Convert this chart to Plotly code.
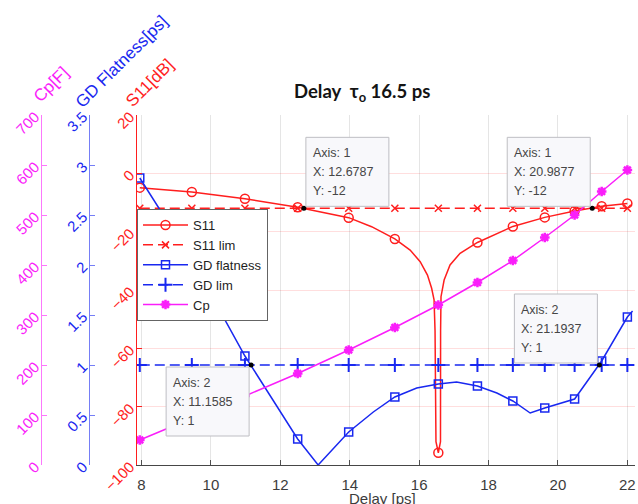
import plotly.graph_objects as go

# ---- data -----------------------------------------------------------------
delay_ps = [7.95, 9.45, 10.98, 12.50, 13.97, 15.30, 16.553, 17.68, 18.70, 19.62, 20.48, 21.26, 22.00]
s11_db = [-4.9, -6.4, -8.7, -11.6, -15.2, -22.5, -95.8, -23.7, -18.2, -15.1, -12.9, -11.3, -10.3]
gd_flatness_ps = [2.87, 2.05, 1.09, 0.26, 0.33, 0.68, 0.81, 0.79, 0.64, 0.57, 0.66, 1.04, 1.48]
cp_f = [50, 93, 138, 183, 230, 275, 320, 365, 409, 455, 500, 547, 590]
s11_lim_db = -12
gd_lim_ps = 1

# extra points along the S11 curve between the marked samples (notch near 16.5 ps)
s11_curve_delay = [14.63, 15.74, 16.03, 16.24, 16.36, 16.43, 16.458, 16.485,
                   16.615, 16.618, 16.63, 16.72, 16.89, 17.18]
s11_curve_db = [-18.3, -26.3, -30.3, -34.9, -39.4, -43.4, -54.0, -92.0,
                -92.0, -54.0, -42.3, -36.6, -31.4, -27.4]

# extra points along the GD flatness curve between the marked samples
gd_curve_delay = [13.09, 14.68, 15.93, 17.08, 18.24, 19.20, 22.15]
gd_curve_ps = [0.00, 0.53, 0.77, 0.83, 0.72, 0.52, 1.54]

# data cursors
tip_axis = [1, 1, 2, 2]
tip_x = [12.6787, 20.9877, 11.1585, 21.1937]
tip_y = [-12, -12, 1, 1]

x_ticks = [8, 10, 12, 14, 16, 18, 20, 22]
s11_ticks = [-100, -80, -60, -40, -20, 0, 20]
gd_ticks = [0, 0.5, 1, 1.5, 2, 2.5, 3, 3.5]
cp_ticks = [0, 100, 200, 300, 400, 500, 600, 700]

S11_RANGE = [-100, 20]
GD_RANGE = [0, 3.5]
CP_RANGE = [0, 700]
X_RANGE = [7.87, 22.22]

# ---- styling --------------------------------------------------------------
RED = "rgb(255,30,30)"
BLUE = "rgb(25,40,240)"
MAG = "rgb(250,30,250)"
CLEAR = "rgba(0,0,0,0)"
FONT = "Liberation Sans, Arial, sans-serif"

W, H = 638, 504
ML, MR, MT, MB = 0, 3, 115, 39
PW, PH = W - ML - MR, H - MT - MB
AX_S11, AX_GD, AX_CP = 137, 89, 41   # pixel x of the three y axes


def px_x(p):
    return p / PW


def px_y(p):
    return (H - MB - p) / PH


def gd_on_s11(v):
    """Express a GD-axis value in S11-axis units (same plot height)."""
    f = (v - GD_RANGE[0]) / (GD_RANGE[1] - GD_RANGE[0])
    return S11_RANGE[0] + f * (S11_RANGE[1] - S11_RANGE[0])


def merged(sx, sy, cx, cy, color):
    """Sample points (marked) merged with curve-only points (unmarked)."""
    pts = [(x, y, color) for x, y in zip(sx, sy)] + [(x, y, CLEAR) for x, y in zip(cx, cy)]
    pts.sort(key=lambda t: t[0])
    return [p[0] for p in pts], [p[1] for p in pts], [p[2] for p in pts]


fig = go.Figure()

sx, sy, sc = merged(delay_ps, s11_db, s11_curve_delay, s11_curve_db, RED)
fig.add_trace(go.Scatter(
    x=sx, y=sy, name="S11", mode="lines+markers", yaxis="y",
    line=dict(color=RED, width=1.5),
    marker=dict(symbol="circle-open", size=9, color=sc, line=dict(width=1.5)),
))
fig.add_trace(go.Scatter(
    x=delay_ps, y=[s11_lim_db] * len(delay_ps), name="S11 lim", mode="lines+markers", yaxis="y",
    line=dict(color=RED, width=1.5, dash="10px,5px"),
    marker=dict(symbol="x-thin-open", size=7, color=RED, line=dict(width=1.5)),
))

gx, gy, gc = merged(delay_ps, gd_flatness_ps, gd_curve_delay, gd_curve_ps, BLUE)
fig.add_trace(go.Scatter(
    x=gx, y=gy, name="GD flatness", mode="lines+markers", yaxis="y2",
    line=dict(color=BLUE, width=1.5),
    marker=dict(symbol="square-open", size=8, color=gc, line=dict(width=1.5)),
))
fig.add_trace(go.Scatter(
    x=delay_ps, y=[gd_lim_ps] * len(delay_ps), name="GD lim", mode="lines+markers", yaxis="y2",
    line=dict(color=BLUE, width=1.5, dash="10px,5px"),
    marker=dict(symbol="cross-thin-open", size=10, color=BLUE, line=dict(width=2)),
))
fig.add_trace(go.Scatter(
    x=delay_ps, y=cp_f, name="Cp", mode="lines+markers", yaxis="y3",
    line=dict(color=MAG, width=1.5),
    marker=dict(symbol="asterisk-open", size=8, color=MAG, line=dict(width=2.5)),
))

# data cursor dots
for ax in (1, 2):
    xs = [x for a, x in zip(tip_axis, tip_x) if a == ax]
    ys = [y for a, y in zip(tip_axis, tip_y) if a == ax]
    fig.add_trace(go.Scatter(
        x=xs, y=ys, mode="markers", yaxis="y" if ax == 1 else "y2", showlegend=False,
        hoverinfo="skip", marker=dict(color="black", size=5),
    ))

# data cursor boxes: (horizontal side, vertical side) relative to the dot
tip_side = [(1, 1), (-1, 1), (-1, -1), (-1, 1)]
BOX_W, BOX_H, GAP = 83, 69, 2
shapes, annotations = [], []
for ax, x, y, (hs, vs) in zip(tip_axis, tip_x, tip_y, tip_side):
    y_ref = y if ax == 1 else gd_on_s11(y)
    x0 = GAP if hs > 0 else -(GAP + BOX_W)
    if vs > 0:
        y0, y1 = GAP, GAP + BOX_H
    else:
        y0, y1 = -GAP, -(GAP + BOX_H)
    shapes.append(dict(
        type="rect", xref="x", yref="y", xsizemode="pixel", ysizemode="pixel",
        xanchor=x, yanchor=y_ref, x0=x0, x1=x0 + BOX_W, y0=y0, y1=y1,
        line=dict(color="rgb(190,190,195)", width=1), fillcolor="rgb(248,248,251)",
        layer="above",
    ))
    top = max(y0, y1)
    lines = [f"Axis: {ax}", f"X: {x:g}", f"Y: {y:g}"]
    for i, txt in enumerate(lines):
        annotations.append(dict(
            xref="x", yref="y", x=x, y=y_ref, text=txt, showarrow=False,
            xanchor="left", yanchor="middle", xshift=x0 + 5, yshift=top - 16 - 19 * i,
            font=dict(family=FONT, size=12.5, color="rgb(70,70,70)"),
        ))

# title and rotated axis titles
annotations.append(dict(
    xref="paper", yref="paper", x=px_x(362), y=px_y(93), showarrow=False,
    text="<b>Delay  τ<sub>o</sub> 16.5 ps</b>",
    font=dict(family="Lato, sans-serif", size=18.5, color="rgb(20,20,20)"),
    xanchor="center", yanchor="middle",
))
for txt, cx, cy, col in [("Cp[F]", 51, 84, MAG),
                         ("GD Flatness[ps]", 122, 62, BLUE),
                         ("S11[dB]", 149, 83, RED)]:
    annotations.append(dict(
        xref="paper", yref="paper", x=px_x(cx), y=px_y(cy), text=txt, showarrow=False,
        textangle=-45, xanchor="center", yanchor="middle",
        font=dict(family=FONT, size=17, color=col),
    ))
annotations.append(dict(
    xref="paper", yref="paper", x=px_x(383), y=px_y(488), text="Delay [ps]", showarrow=False,
    xanchor="center", yanchor="top", font=dict(family=FONT, size=15, color="rgb(60,60,60)"),
))

ytick_common = dict(
    ticks="inside", ticklen=5, tickangle=-45, showline=True, linewidth=1,
    zeroline=False, ticklabelstandoff=3,
)

fig.update_layout(
    width=W, height=H, margin=dict(l=ML, r=MR, t=MT, b=MB),
    paper_bgcolor="white", plot_bgcolor="white",
    showlegend=True,
    legend=dict(
        x=px_x(AX_S11), y=px_y(209), xanchor="left", yanchor="top",
        bgcolor="white", bordercolor="rgb(100,100,100)", borderwidth=1,
        font=dict(family=FONT, size=13, color="rgb(30,30,30)"),
        tracegroupgap=0, itemwidth=45,
    ),
    xaxis=dict(
        domain=[px_x(AX_S11), 1], range=X_RANGE, tickvals=x_ticks,
        ticks="inside", ticklen=5, tickcolor="rgb(80,80,80)",
        showline=True, linecolor="rgb(70,70,70)", linewidth=1,
        showgrid=True, gridcolor="rgba(0,0,0,0.1)", zeroline=False,
        tickfont=dict(family=FONT, size=15, color="rgb(60,60,60)"), ticklabelstandoff=6,
    ),
    yaxis=dict(
        range=S11_RANGE, tickvals=s11_ticks, linecolor=RED, tickcolor=RED,
        showgrid=True, gridcolor="rgba(255,0,0,0.13)",
        tickfont=dict(family=FONT, size=15, color=RED),
        **ytick_common,
    ),
    yaxis2=dict(
        range=GD_RANGE, tickvals=gd_ticks, overlaying="y", anchor="free",
        position=px_x(AX_GD), side="left", linecolor="rgba(25,40,240,0.6)",
        tickcolor="rgba(25,40,240,0.6)", showgrid=False,
        tickfont=dict(family=FONT, size=15, color=BLUE),
        **ytick_common,
    ),
    yaxis3=dict(
        range=CP_RANGE, tickvals=cp_ticks, overlaying="y", anchor="free",
        position=px_x(AX_CP), side="left", linecolor="rgba(250,30,250,0.6)",
        tickcolor="rgba(250,30,250,0.6)", showgrid=False,
        tickfont=dict(family=FONT, size=15, color=MAG),
        **ytick_common,
    ),
    shapes=shapes,
    annotations=annotations,
)

fig.write_html("out.html")
